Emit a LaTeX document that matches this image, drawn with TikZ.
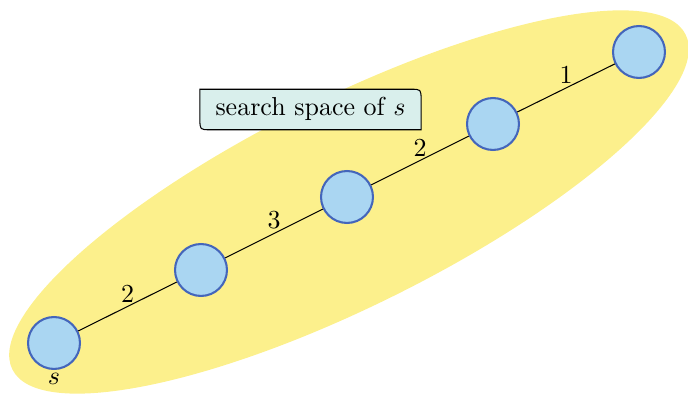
\documentclass[tikz,border=0pt]{standalone}
\usetikzlibrary{calc}
\definecolor{blobyellow}{RGB}{252,240,140}
\definecolor{nodefill}{RGB}{170,214,242}
\definecolor{nodeborder}{RGB}{68,102,187}
\definecolor{boxfill}{RGB}{217,239,236}
\tikzset{
  vert/.style={circle, draw=nodeborder, fill=nodefill, line width=0.8pt, minimum size=20pt, inner sep=0pt},
  lbl/.style={above, inner sep=1.5pt, font=\normalsize},
  edge/.style={draw=black, line width=0.4pt},
}
\begin{document}
\begin{tikzpicture}[x=0.385pt,y=-0.385pt]
\useasboundingbox (0,0) rectangle (688,397);
\fill[blobyellow, rotate around={26.45:(349,202)}] (349,202) ellipse [x radius=376, y radius=104];
\node[vert, label={[inner sep=1pt]below:$s$}] (v1) at (54,343) {};
\node[vert] (v2) at (201,270) {};
\node[vert] (v3) at (347,197) {};
\node[vert] (v4) at (493,124) {};
\node[vert] (v5) at (639,52) {};
\draw[edge] (v1) -- node[lbl] {2} (v2);
\draw[edge] (v2) -- node[lbl] {3} (v3);
\draw[edge] (v3) -- node[lbl] {2} (v4);
\draw[edge] (v4) -- node[lbl] {1} (v5);
\node[inner xsep=5.8pt, inner ysep=3.2pt, text height=6.9pt, text depth=1.9pt] (box) at (310.5,109.5) {search space of $s$};
\draw[fill=boxfill, line width=0.4pt]
  (box.north west) -- ($(box.north east)+(-4pt,0)$) .. controls (box.north east) .. ($(box.north east)+(0,-4pt)$)
  -- (box.south east) -- ($(box.south west)+(4pt,0)$) .. controls (box.south west) .. ($(box.south west)+(0,4pt)$) -- cycle;
\node[inner xsep=5.8pt, inner ysep=3.2pt, text height=6.9pt, text depth=1.9pt] at (box.center) {search space of $s$};
\end{tikzpicture}
\end{document}
